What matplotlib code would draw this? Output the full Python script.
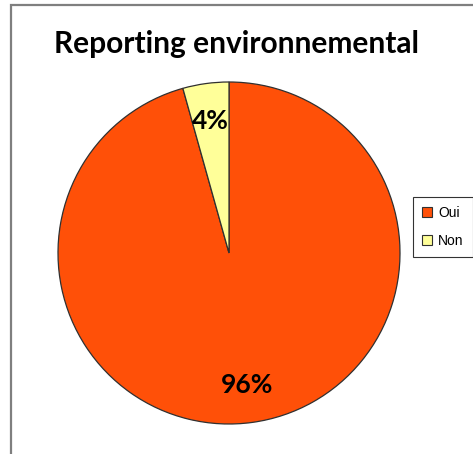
import matplotlib
matplotlib.use("Agg")
import matplotlib.pyplot as plt
from matplotlib.patches import Rectangle, Patch

labels = ["Oui", "Non"]
values = [22, 1]
colors = ["#FF5008", "#FFFF99"]
title = "Reporting environnemental"

W, H = 473, 454
fig = plt.figure(figsize=(W/100, H/100), dpi=100)
fig.patch.set_facecolor("white")

# outer chart frame
fig.add_artist(Rectangle((10.5/W, -0.2), 1.2, 1.2 - 4.5/H, transform=fig.transFigure,
                         fill=False, edgecolor="#7F7F7F", linewidth=1.6))

cx, cy, r = 229, 253, 171
ax = fig.add_axes([(cx - r)/W, (H - cy - r)/H, 2*r/W, 2*r/H])
wedges, texts, autotexts = ax.pie(values, colors=colors, startangle=90, counterclock=False,
                                  autopct=lambda p: f"{p:.0f}%", pctdistance=0.78,
                                  wedgeprops=dict(edgecolor="#303030", linewidth=0.9),
                                  textprops=dict(fontsize=19, fontweight="bold", family="Lato"))
ax.set_xlim(-1.0, 1.0)
ax.set_ylim(-1.0, 1.0)
ax.set_aspect("equal")
ax.axis("off")

fig.text(236/W, 1 - 44/H, title, ha="center", va="center", fontsize=21.5,
         fontweight="bold", family="Lato")

handles = [Patch(facecolor=c, edgecolor="#303030", linewidth=0.8) for c in colors]
leg = fig.legend(handles, labels, loc="upper left", bbox_to_anchor=(413/W, 1 - 197/H),
                 borderaxespad=0, frameon=True, fancybox=False, handlelength=0.7,
                 handleheight=0.7, handletextpad=0.45, labelspacing=1.0,
                 borderpad=0.65, prop=dict(family="Liberation Sans", size=10))
leg.get_frame().set_edgecolor("black")
leg.get_frame().set_linewidth(0.8)

fig.savefig("out.png", dpi=100, facecolor="white")
